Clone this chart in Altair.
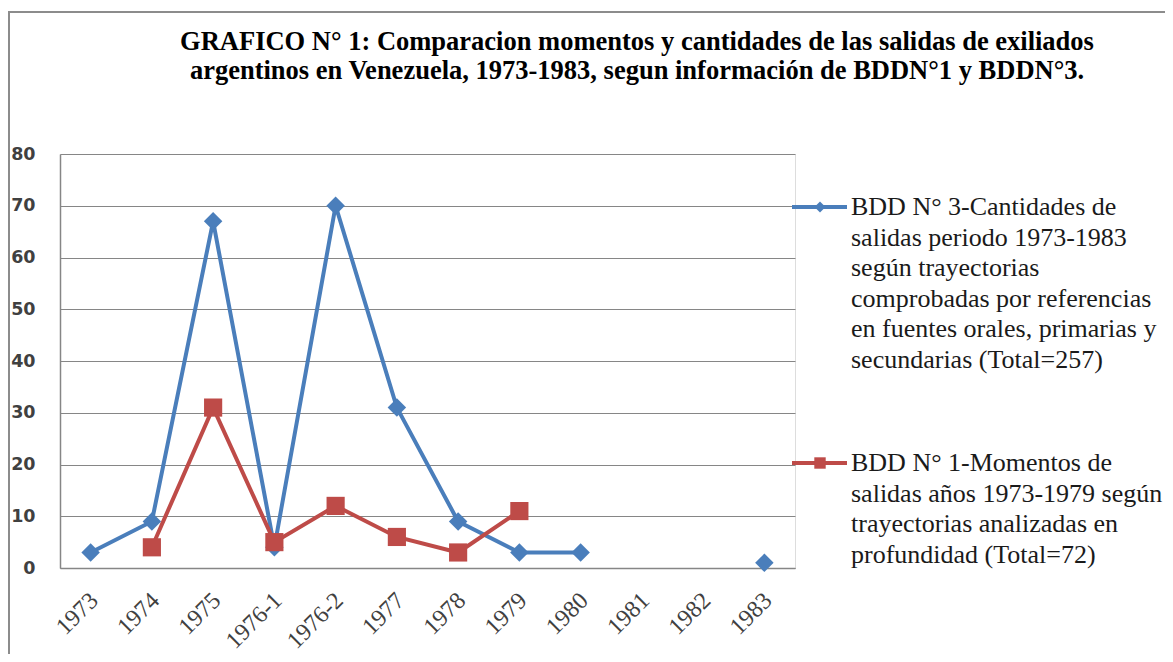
import altair as alt
import pandas as pd

periods = ["1973", "1974", "1975", "1976-1", "1976-2", "1977", "1978", "1979",
           "1980", "1981", "1982", "1983"]
bdd3_values = [3, 9, 67, 4, 70, 31, 9, 3, 3, None, None, 1]
bdd1_values = [None, 4, 31, 5, 12, 6, 3, 11, None, None, None, None]
series_names = ["BDD N° 3", "BDD N° 1"]
series_colors = ["#4A7EBB", "#BE4B48"]
series_shapes = ["diamond", "square"]
y_ticks = [0, 10, 20, 30, 40, 50, 60, 70, 80]

title_lines = [
    "GRAFICO N° 1: Comparacion momentos y cantidades de las salidas de exiliados",
    "argentinos en Venezuela, 1973-1983, segun información de BDDN°1 y BDDN°3.",
]
legend_bdd3 = ["BDD N° 3-Cantidades de", "salidas periodo 1973-1983",
               "según trayectorias", "comprobadas por referencias",
               "en fuentes orales, primarias y", "secundarias (Total=257)"]
legend_bdd1 = ["BDD N° 1-Momentos de", "salidas años 1973-1979 según",
               "trayectorias analizadas en", "profundidad (Total=72)"]

rows = []
for p, v in zip(periods, bdd3_values):
    rows.append({"period": p, "value": v, "series": series_names[0]})
for p, v in zip(periods, bdd1_values):
    rows.append({"period": p, "value": v, "series": series_names[1]})
df = pd.DataFrame(rows)

W, H = 735, 414

x_enc = alt.X("period:O", sort=periods, scale=alt.Scale(domain=periods),
              axis=alt.Axis(title=None, labelAngle=315, labelAlign="right",
                            labelBaseline="top", labelFont="Liberation Serif",
                            labelFontSize=24, labelColor="#404040",
                            labelPadding=20, labelOffset=-5, ticks=False, grid=False,
                            domainColor="#868686", domainWidth=1.5))
y_enc = alt.Y("value:Q", scale=alt.Scale(domain=[0, 80], nice=False),
              axis=alt.Axis(title=None, values=y_ticks, labelFont="DejaVu Sans",
                            labelFontWeight="bold", labelFontSize=17.5,
                            labelColor="#404040", labelPadding=25, ticks=False,
                            gridColor="#868686", gridWidth=1,
                            domainColor="#868686", domainWidth=1.5))

base = alt.Chart(df).encode(x=x_enc, y=y_enc)

layers = []
for name, col, shp in zip(series_names, series_colors, series_shapes):
    sub = base.transform_filter(alt.datum.series == name)
    layers.append(sub.mark_line(color=col, strokeWidth=4,
                                invalid="break-paths-show-domains"))
    layers.append(sub.transform_filter("isValid(datum.value)").mark_point(
        shape=shp, filled=True, opacity=1, color=col,
        size=340 if shp == "diamond" else 330))

one = pd.DataFrame({"k": [0]})

# frame around the whole figure
frame = alt.Chart(one).mark_rect(fill=None, stroke="#8c8c8c", strokeWidth=2).encode(
    x=alt.value(-51), x2=alt.value(1300), y=alt.value(-142), y2=alt.value(700))

# title as text
title = alt.Chart(one).mark_text(
    align="center", baseline="alphabetic", font="Liberation Serif", fontSize=26.5,
    fontWeight="bold", lineHeight=29, color="#000000").encode(
    x=alt.value(577), y=alt.value(-104), text=alt.value(title_lines))

# manual legend
legend_layers = []
for name, lines, col, shp, ly, sz in [
        (series_names[0], legend_bdd3, series_colors[0], "diamond", 53, 120),
        (series_names[1], legend_bdd1, series_colors[1], "square", 309, 130)]:
    ldf = pd.DataFrame({"series": [name]})
    legend_layers.append(alt.Chart(ldf).mark_rule(color=col, strokeWidth=4).encode(
        x=alt.value(732), x2=alt.value(787), y=alt.value(ly)))
    legend_layers.append(alt.Chart(ldf).mark_point(
        shape=shp, filled=True, opacity=1, color=col, size=sz).encode(
        x=alt.value(760), y=alt.value(ly)))
    legend_layers.append(alt.Chart(ldf).mark_text(
        align="left", baseline="alphabetic", font="Liberation Serif",
        fontSize=26, lineHeight=30.5, color="#1a1a1a").encode(
        x=alt.value(791), y=alt.value(ly + 8), text=alt.value(lines)))

chart = alt.layer(frame, title, *layers, *legend_layers).properties(
    width=W, height=H,
    autosize=alt.AutoSizeParams(type="none"),
    padding={"left": 52, "top": 146, "right": 370, "bottom": 86},
).configure_view(stroke=None).configure(background="white")

chart.save("out.html", embed_options={"renderer": "svg", "actions": False})
